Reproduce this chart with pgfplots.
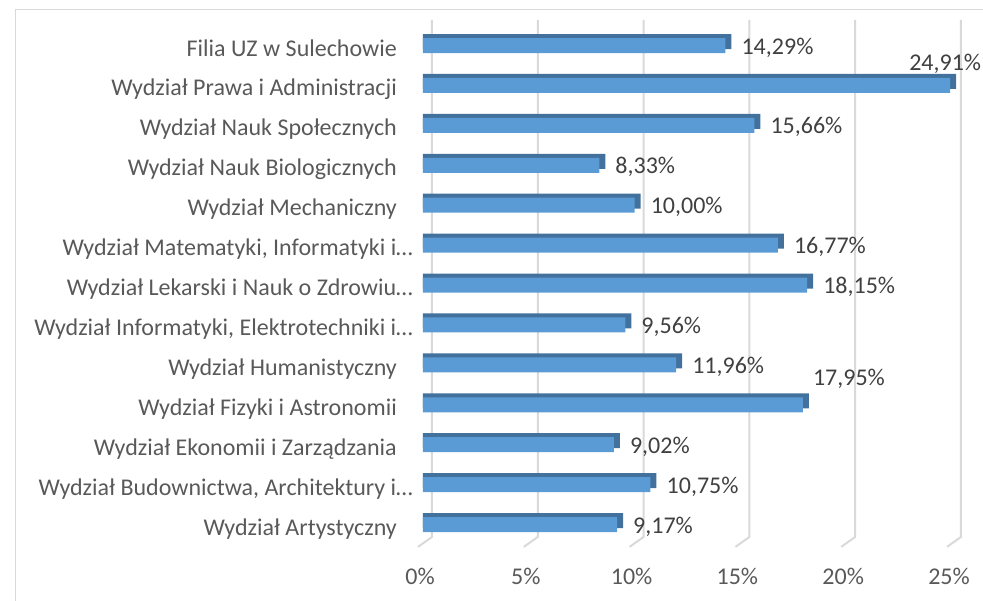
\documentclass[border=0pt]{standalone}
\usepackage{fontspec}
\setmainfont{Carlito}
\usepackage{pgfplots}
\usepackage{pgfplotstable}
\pgfplotsset{compat=1.18}
\definecolor{barfront}{HTML}{5B9BD5}
\definecolor{bartop}{HTML}{41719C}
\definecolor{gridc}{HTML}{D9D9D9}
\definecolor{txt}{HTML}{595959}
\definecolor{vtxt}{HTML}{404040}

\pgfplotstableread{
row val dx dy
0 14.29 16 -2
1 24.91 -41 22
2 15.66 16 -2
3 8.33 16 -2
4 10.00 16 -2
5 16.77 16 -2
6 18.15 16 -2
7 9.56 16 -2
8 11.96 16 -2
9 17.95 10 26
10 9.02 16 -2
11 10.75 16 -2
12 9.17 16 -2
}\datatable

\newcommand{\chfont}{\fontsize{24}{28}\selectfont}

\begin{document}
\begin{tikzpicture}
\draw[gridc, line width=1pt] (15pt,-10pt) -- (15pt,590pt) -- (1000pt,590pt);
\begin{axis}[
  x=21.16pt, y=39.92pt, y dir=reverse,
  xmin=0, xmax=25, ymin=-0.64, ymax=12.56,
  enlargelimits=false,
  at={(423pt,580.05pt)}, anchor=north west,
  clip=false,
  axis line style={draw=none},
  major tick length=0pt,
  /pgf/number format/assume math mode=true,
  xtick={0,5,...,25},
  xticklabel={\pgfmathprintnumber{\tick}\%},
  ytick={0,...,12},
  yticklabels={
    Filia UZ w Sulechowie\kern16pt,
    Wydział Prawa i Administracji\kern16pt,
    Wydział Nauk Społecznych\kern16pt,
    Wydział Nauk Biologicznych\kern16pt,
    Wydział Mechaniczny\kern16pt,
    {Wydział Matematyki, Informatyki i…},
    Wydział Lekarski i Nauk o Zdrowiu…,
    {Wydział Informatyki, Elektrotechniki i…},
    Wydział Humanistyczny\kern16pt,
    Wydział Fizyki i Astronomii\kern16pt,
    Wydział Ekonomii i Zarządzania\kern16pt,
    {Wydział Budownictwa, Architektury i…},
    Wydział Artystyczny\kern16pt
  },
  xticklabel style={font=\chfont, text=txt, inner sep=0pt, anchor=base, yshift=-38pt, xshift=-3pt},
  yticklabel style={font=\chfont, text=txt, inner sep=0pt, anchor=base east, xshift=-10pt, yshift=-10.5pt},
]
% gridlines (back plane + floor)
\addplot[gridc, line width=2pt, forget plot] coordinates {(0.425,-0.64) (0.425,12.31) (-0.236,12.56)};
\addplot[gridc, line width=2pt, forget plot] coordinates {(5.425,-0.64) (5.425,12.31) (4.764,12.56)};
\addplot[gridc, line width=2pt, forget plot] coordinates {(10.425,-0.64) (10.425,12.31) (9.764,12.56)};
\addplot[gridc, line width=2pt, forget plot] coordinates {(15.425,-0.64) (15.425,12.31) (14.764,12.56)};
\addplot[gridc, line width=2pt, forget plot] coordinates {(20.425,-0.64) (20.425,12.31) (19.764,12.56)};
\addplot[gridc, line width=2pt, forget plot] coordinates {(25.425,-0.64) (25.425,12.31) (24.764,12.56)};
% depth (top/right faces)
\addplot[xbar, bar width=15pt, bar shift=0pt, fill=bartop, draw=none, yshift=4pt, forget plot]
  table[x expr=\thisrow{val}+0.284, y=row]{\datatable};
% front faces
\addplot[xbar, bar width=15pt, bar shift=0pt, fill=barfront, draw=none,
  point meta=x,
  visualization depends on={\thisrow{dx} \as \dx},
  visualization depends on={\thisrow{dy} \as \dy},
  nodes near coords={\pgfmathprintnumber[fixed,fixed zerofill,precision=2,use comma]{\pgfplotspointmeta}\%},
  every node near coord/.append style={font=\chfont, text=vtxt, inner sep=0pt, anchor=west, xshift=\dx pt, yshift=\dy pt},
] table[x=val, y=row]{\datatable};
\end{axis}
\pgfresetboundingbox
\path[use as bounding box] (0pt,0pt) rectangle (983pt,600pt);
\end{tikzpicture}
\end{document}
